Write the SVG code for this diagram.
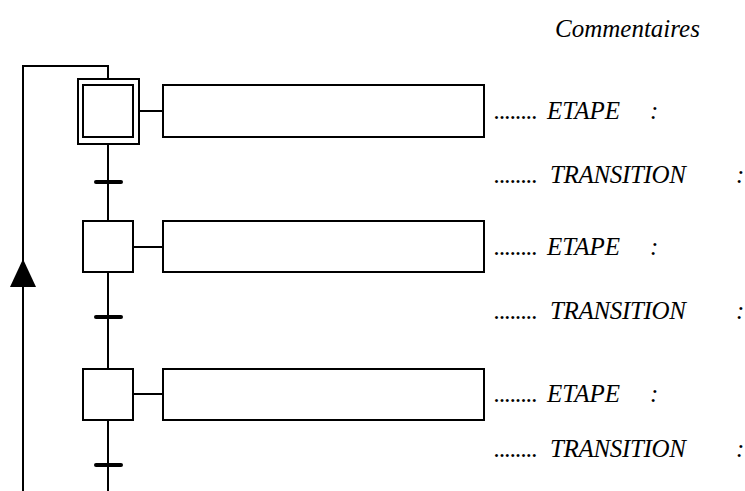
<svg xmlns="http://www.w3.org/2000/svg" width="745" height="491" viewBox="0 0 745 491">
  <style>
    .box { fill: #fff; stroke: #000; stroke-width: 2; }
    .wire { fill: none; stroke: #000; stroke-width: 2; }
    .bar { stroke: #000; stroke-width: 4; stroke-linecap: round; }
    .txt { font-family: "Liberation Serif", "Times New Roman", serif; font-style: italic; font-size: 25px; fill: #000; }
  </style>
  <rect width="745" height="491" fill="#fff"/>

  <!-- connectors: sequence line, return loop, action links, transitions -->
  <g id="connectors">
    <path class="wire" d="M108,491 V420 M108,369 V272 M108,221 V144"/>
    <path class="wire" d="M23,491 V66 H108 V79"/>
    <polygon points="23,259 10,287 36,287" fill="#000"/>
    <path class="wire" d="M139,111 H163 M133,247 H163 M133,394 H163"/>
    <line class="bar" x1="96" y1="182" x2="121" y2="182"/>
    <line class="bar" x1="96" y1="317" x2="121" y2="317"/>
    <line class="bar" x1="96" y1="465" x2="121" y2="465"/>
  </g>

  <!-- initial step -->
  <g id="step1">
    <rect class="box" x="78" y="79" width="61" height="65"/>
    <rect class="box" x="83" y="85" width="50" height="52"/>
  </g>
  <g id="action1"><rect class="box" x="163" y="85" width="321" height="52"/></g>

  <g id="step2"><rect class="box" x="83" y="221" width="50" height="51"/></g>
  <g id="action2"><rect class="box" x="163" y="221" width="321" height="51"/></g>

  <g id="step3"><rect class="box" x="83" y="369" width="50" height="51"/></g>
  <g id="action3"><rect class="box" x="163" y="369" width="321" height="51"/></g>

  <!-- comment column -->
  <g id="comments" class="txt">
    <text x="555" y="37">Commentaires</text>

    <text x="494" y="119" textLength="44">........</text>
    <text x="547" y="119">ETAPE</text>
    <text x="650" y="119">:</text>
    <text x="494" y="183" textLength="44">........</text>
    <text x="550" y="183" textLength="136">TRANSITION</text>
    <text x="736" y="183">:</text>

    <text x="494" y="255" textLength="44">........</text>
    <text x="547" y="255">ETAPE</text>
    <text x="650" y="255">:</text>
    <text x="494" y="319" textLength="44">........</text>
    <text x="550" y="319" textLength="136">TRANSITION</text>
    <text x="736" y="319">:</text>

    <text x="494" y="402" textLength="44">........</text>
    <text x="547" y="402">ETAPE</text>
    <text x="650" y="402">:</text>
    <text x="494" y="457" textLength="44">........</text>
    <text x="550" y="457" textLength="136">TRANSITION</text>
    <text x="736" y="457">:</text>
  </g>
</svg>
